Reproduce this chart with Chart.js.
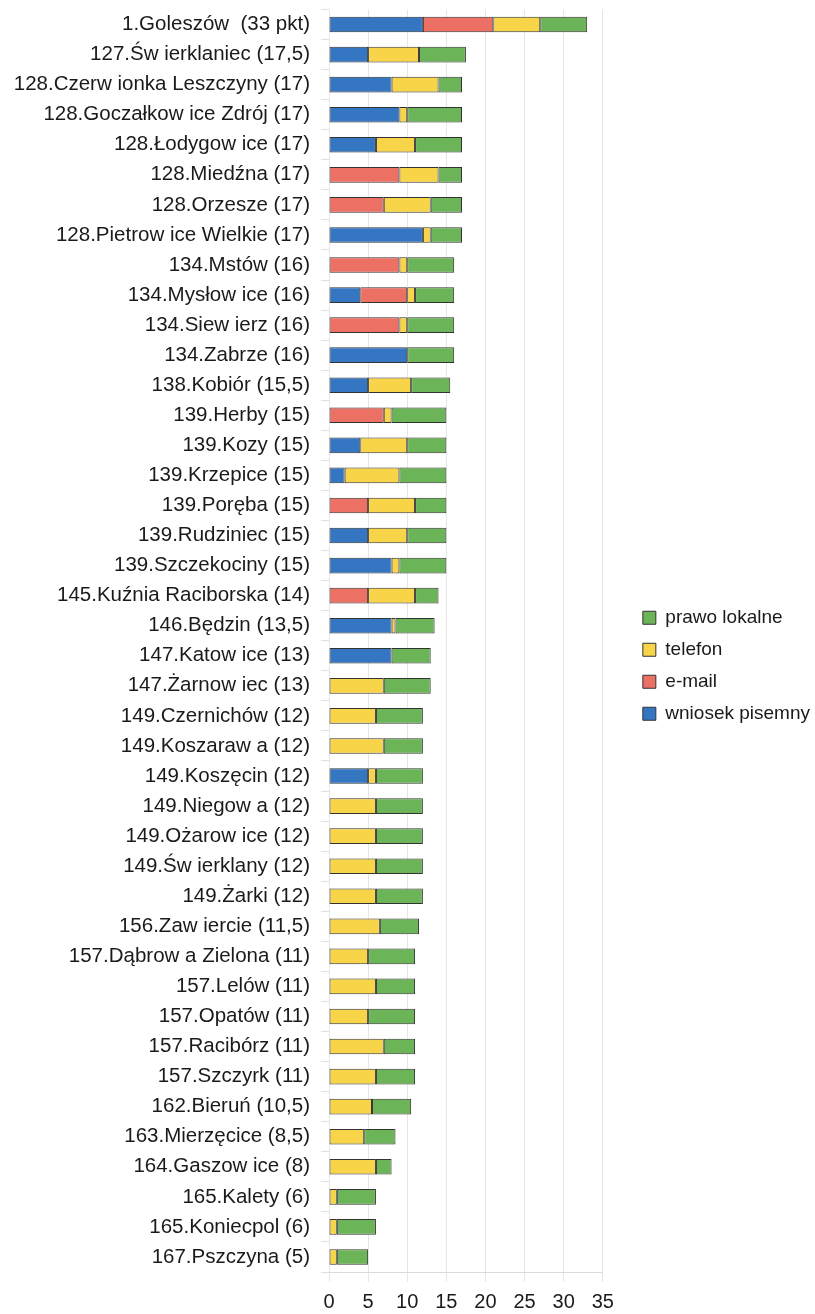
<!DOCTYPE html>
<html lang="pl">
<head>
    <meta charset="UTF-8">
    <title>Ranking gmin</title>
    <script src="https://cdn.jsdelivr.net/npm/chart.js"></script>
    <style>
        body {
            margin: 0;
            background: #fff;
        }
        .container {
            position: relative;
            width: 815px;
            height: 1314px;
        }
    </style>
</head>
<body>

<div class="container">
    <canvas id="myChart"></canvas>
</div>

<script>
    const gminy = [
        '1.Goleszów  (33 pkt)', '127.Św ierklaniec (17,5)', '128.Czerw ionka Leszczyny (17)',
        '128.Goczałkow ice Zdrój (17)', '128.Łodygow ice (17)', '128.Miedźna (17)', '128.Orzesze (17)',
        '128.Pietrow ice Wielkie (17)', '134.Mstów (16)', '134.Mysłow ice (16)', '134.Siew ierz (16)',
        '134.Zabrze (16)', '138.Kobiór (15,5)', '139.Herby (15)', '139.Kozy (15)', '139.Krzepice (15)',
        '139.Poręba (15)', '139.Rudziniec (15)', '139.Szczekociny (15)', '145.Kuźnia Raciborska (14)',
        '146.Będzin (13,5)', '147.Katow ice (13)', '147.Żarnow iec (13)', '149.Czernichów (12)',
        '149.Koszaraw a (12)', '149.Koszęcin (12)', '149.Niegow a (12)', '149.Ożarow ice (12)',
        '149.Św ierklany (12)', '149.Żarki (12)', '156.Zaw iercie (11,5)', '157.Dąbrow a Zielona (11)',
        '157.Lelów (11)', '157.Opatów (11)', '157.Racibórz (11)', '157.Szczyrk (11)', '162.Bieruń (10,5)',
        '163.Mierzęcice (8,5)', '164.Gaszow ice (8)', '165.Kalety (6)', '165.Koniecpol (6)', '167.Pszczyna (5)'
    ];

    const wniosekPisemny = [12, 5, 8, 9, 6, 0, 0, 12, 0, 4, 0, 10, 5, 0, 4, 2, 0, 5, 8, 0, 8, 8, 0, 0,
        0, 5, 0, 0, 0, 0, 0, 0, 0, 0, 0, 0, 0, 0, 0, 0, 0, 0];
    const email = [9, 0, 0, 0, 0, 9, 7, 0, 9, 6, 9, 0, 0, 7, 0, 0, 5, 0, 0, 5, 0, 0, 0, 0,
        0, 0, 0, 0, 0, 0, 0, 0, 0, 0, 0, 0, 0, 0, 0, 0, 0, 0];
    const telefon = [6, 6.5, 6, 1, 5, 5, 6, 1, 1, 1, 1, 0, 5.5, 1, 6, 7, 6, 5, 1, 6, 0.5, 0, 7, 6,
        7, 1, 6, 6, 6, 6, 6.5, 5, 6, 5, 7, 6, 5.5, 4.5, 6, 1, 1, 1];
    const prawoLokalne = [6, 6, 3, 7, 6, 3, 4, 4, 6, 5, 6, 6, 5, 7, 5, 6, 4, 5, 6, 3, 5, 5, 6, 6,
        5, 6, 6, 6, 6, 6, 5, 6, 5, 6, 4, 5, 5, 4, 2, 5, 5, 4];

    const xTicks = [0, 5, 10, 15, 20, 25, 30, 35];

    const fontFamily = '"Liberation Sans", Arial, sans-serif';

    // zero segments would still draw a border line, so skip them
    const seg = arr => arr.map(v => v === 0 ? null : v);

    function makeSet(label, data, color) {
        return {
            label: label,
            data: seg(data),
            backgroundColor: color,
            borderColor: '#333',
            borderWidth: 1,
            borderSkipped: false,
            barPercentage: 0.52,
            categoryPercentage: 1.0
        };
    }

    // moves the legend block a bit away from the plot, like in the original
    const legendShift = {
        id: 'legendShift',
        afterLayout(chart) {
            const lg = chart.legend;
            const dx = chart.chartArea.right + 40 - (lg.left + lg.options.labels.padding);
            lg.left += dx;
            lg.right += dx;
            lg.top += 4;
            lg.bottom += 4;
        }
    };

    const ctx = document.getElementById('myChart').getContext('2d');
    const chart = new Chart(ctx, {
        type: 'bar',
        data: {
            labels: gminy,
            datasets: [
                makeSet('wniosek pisemny', wniosekPisemny, 'rgb(52, 118, 194)'),
                makeSet('e-mail', email, 'rgb(236, 112, 100)'),
                makeSet('telefon', telefon, 'rgb(248, 212, 72)'),
                makeSet('prawo lokalne', prawoLokalne, 'rgb(108, 180, 88)')
            ]
        },
        options: {
            indexAxis: 'y',
            responsive: true,
            maintainAspectRatio: false,
            animation: false,
            layout: {
                padding: { top: 9.5, right: 22, bottom: 0, left: 0 }
            },
            scales: {
                x: {
                    stacked: true,
                    min: 0,
                    max: 35,
                    afterBuildTicks: scale => {
                        scale.ticks = xTicks.map(v => ({ value: v }));
                    },
                    afterFit: scale => {
                        scale.height = 42;
                    },
                    grid: {
                        color: '#e6e6e6',
                        tickLength: 10
                    },
                    border: { color: '#dcdcdc' },
                    ticks: {
                        color: '#1a1a1a',
                        padding: 8,
                        font: { family: fontFamily, size: 20 }
                    }
                },
                y: {
                    stacked: true,
                    afterFit: scale => {
                        scale.width = 329;
                        scale.paddingTop = 0;
                        scale.paddingBottom = 0;
                    },
                    grid: {
                        offset: true,
                        drawOnChartArea: false,
                        color: '#e0e0e0',
                        tickLength: 8
                    },
                    border: { display: false },
                    ticks: {
                        color: '#1a1a1a',
                        padding: 11,
                        autoSkip: false,
                        font: { family: fontFamily, size: 20.5 }
                    }
                }
            },
            plugins: {
                legend: {
                    position: 'right',
                    reverse: true,
                    labels: {
                        boxWidth: 13,
                        boxHeight: 13,
                        padding: 13,
                        color: '#1a1a1a',
                        font: { family: fontFamily, size: 19 }
                    }
                },
                tooltip: { enabled: false }
            }
        },
        plugins: [legendShift]
    });
</script>

</body>
</html>
